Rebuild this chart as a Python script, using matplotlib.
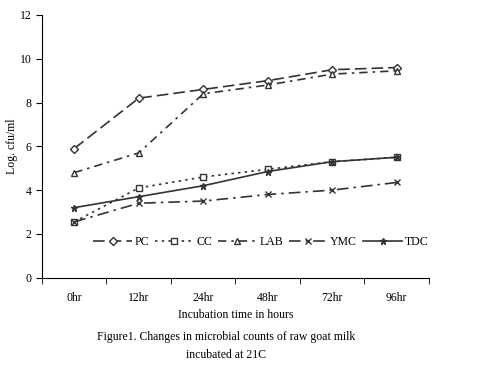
import matplotlib.pyplot as plt
import numpy as np

plt.rcParams['font.family'] = ['Liberation Serif', 'DejaVu Serif']

hours = ['0hr', '12hr', '24hr', '48hr', '72hr', '96hr']
pc = [5.9, 8.2, 8.6, 9.0, 9.5, 9.6]
cc = [2.55, 4.1, 4.6, 4.95, 5.3, 5.5]
lab = [4.8, 5.7, 8.4, 8.8, 9.3, 9.45]
ymc = [2.55, 3.4, 3.5, 3.8, 4.0, 4.35]
tdc = [3.2, 3.7, 4.2, 4.85, 5.3, 5.5]

fig = plt.figure(figsize=(4.85, 3.7), dpi=100)
ax = fig.add_axes([0.0866, 0.2495, 0.7979, 0.71])

x = np.arange(len(hours))
c = '#333333'
ax.plot(x, pc, color=c, ls=(0, (7, 3)), marker='D', ms=4, mfc='white', lw=1.2, label='PC')
ax.plot(x, cc, color=c, ls=(0, (1.5, 2.5)), marker='s', ms=4, mfc='white', lw=1.2, label='CC')
ax.plot(x, lab, color=c, ls=(0, (5, 3, 1.5, 3)), marker='^', ms=4.5, mfc='white', lw=1.2, label='LAB')
ax.plot(x, ymc, color=c, ls=(0, (7, 3, 1.5, 3)), marker='x', ms=4, lw=1.2, label='YMC')
ax.plot(x, tdc, color=c, ls='-', marker='*', ms=5, lw=1.2, label='TDC')

fs = 8.5
ax.set_xlim(-0.5, 5.5)
ax.set_ylim(0, 12)
ax.set_yticks(range(0, 13, 2))
ax.set_xticks(x)
ax.set_xticklabels(hours, fontsize=fs)
ax.set_xticks(np.arange(-0.5, 6, 1), minor=True)
ax.tick_params(axis='x', which='major', length=0, pad=10)
ax.tick_params(axis='x', which='minor', length=4, direction='out')
ax.tick_params(axis='y', labelsize=fs, length=4, direction='out')
for s in ['top', 'right']:
    ax.spines[s].set_visible(False)
ax.set_xlabel('Incubation time in hours', fontsize=fs, labelpad=4)
ax.set_ylabel('Log. cfu/ml', fontsize=fs, labelpad=1)

ax.legend(loc='center', bbox_to_anchor=(0.565, 0.136), ncol=5, frameon=False,
          fontsize=fs, handlelength=3.3, columnspacing=0.5, handletextpad=0.2)

fig.text(0.466, 0.089, 'Figure1. Changes in microbial counts of raw goat milk', ha='center', va='center', fontsize=fs)
fig.text(0.466, 0.040, 'incubated at 21C', ha='center', va='center', fontsize=fs)

fig.savefig('out.png', dpi=100)
